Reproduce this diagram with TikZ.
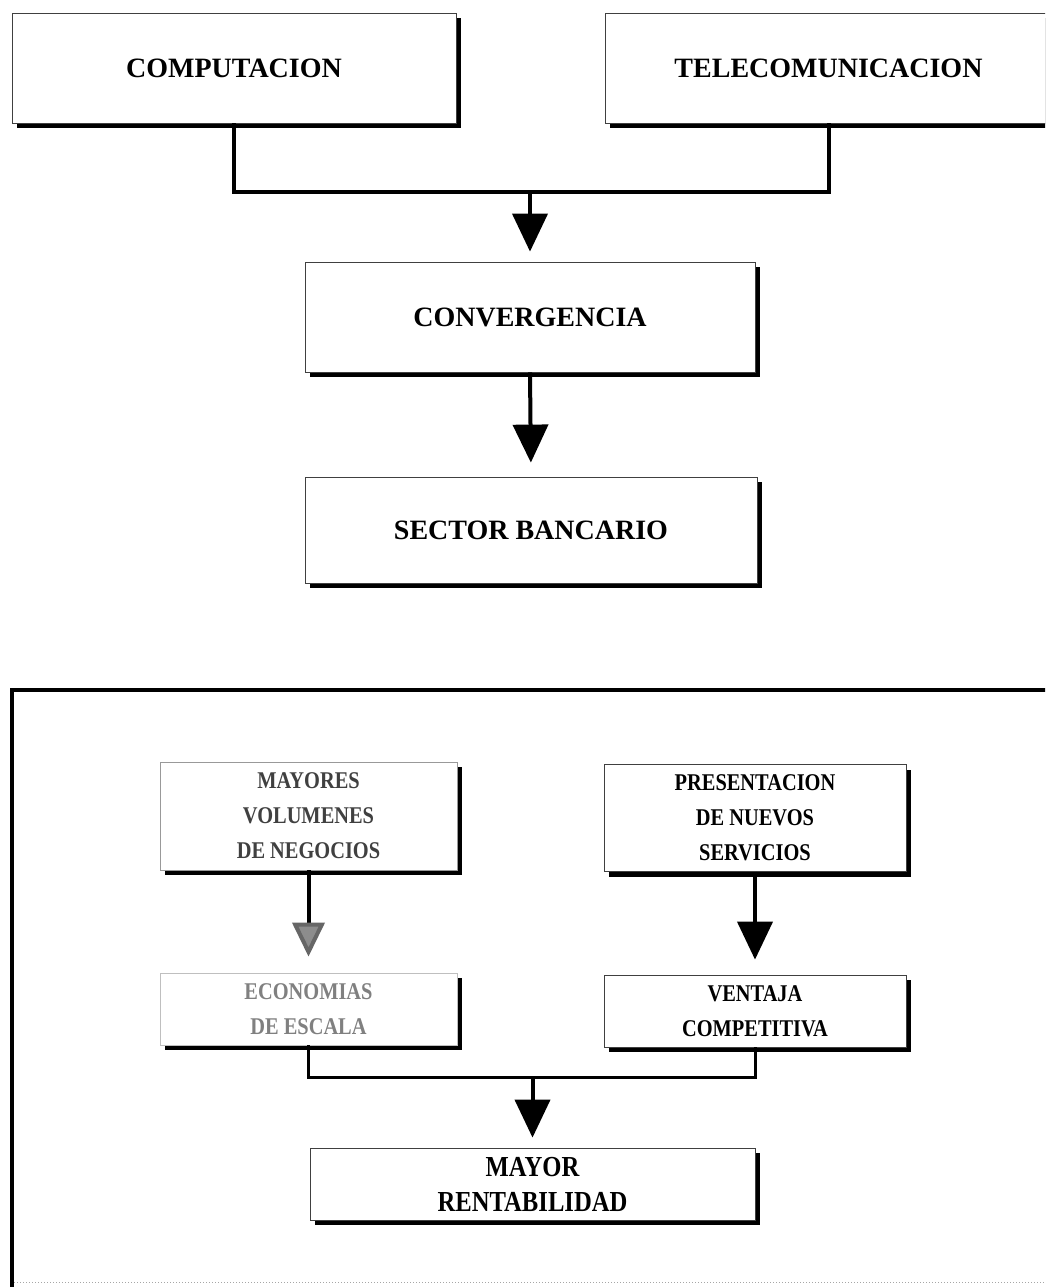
\documentclass[tikz,border=0pt]{standalone}
\usepackage{fontspec}
\setmainfont{Liberation Serif}
\newfontfamily\condserif[FakeStretch=0.85]{Liberation Serif}
\usetikzlibrary{arrows.meta,shadows}
\begin{document}
\begin{tikzpicture}[x=1pt,y=-1pt,
  box/.style={draw=black!75, line width=0.8pt, fill=white, rectangle, inner sep=0pt, align=center,
     drop shadow={shadow xshift=5pt, shadow yshift=-5pt, fill=black, opacity=1}},
  bigtxt/.style={font=\fontsize{28}{34}\selectfont\bfseries},
  smalltxt/.style={font=\condserif\fontsize{24}{35}\selectfont\bfseries},
  ranktxt/.style={font=\condserif\fontsize{29}{35}\selectfont\bfseries},
  conn/.style={line width=4pt, line join=miter, black},
  arr/.style={line width=4pt, -{Triangle[length=38pt,width=35pt]}},
  grayarr/.style={line width=4pt, -{Triangle[length=34pt,width=32pt,fill=black!45,color=black!60]}},
]
\useasboundingbox (0,0) rectangle (1045,1287);
\fill[white] (0,0) rectangle (1045,1287);
\begin{scope}
\clip (0,0) rectangle (1045,1287);
% top part
\node[box, bigtxt, minimum width=444pt, minimum height=110pt] (comp) at (234,68) {COMPUTACION};
\node[box, bigtxt, minimum width=447pt, minimum height=110pt] (tele) at (828.5,68) {TELECOMUNICACION};
\node[box, bigtxt, minimum width=450pt, minimum height=110pt] (conv) at (530,317) {CONVERGENCIA};
\node[box, bigtxt, minimum width=452pt, minimum height=106pt] (sect) at (531,530) {SECTOR BANCARIO};
\coordinate (j1) at (530,192);
\draw[conn] (comp.south) |- (tele.south |- j1) -- (tele.south);
\draw[arr, shorten >=10pt] (j1) -- (conv.north);
\draw[arr, shorten >=14pt] (conv.south) -- (sect.north);
% frame
\draw[line width=4pt, line join=miter] (12,1287) -- (12,690) -- (1060,690);
\draw[black!35, line width=1pt, dotted] (14,1282) -- (1045,1282);
% bottom part
\node[box, smalltxt, text=black!75, draw=black!40, minimum width=297pt, minimum height=108pt] (may) at (308.5,816) {MAYORES\\VOLUMENES\\DE NEGOCIOS};
\node[box, smalltxt, text=black!50, draw=black!25, minimum width=297pt, minimum height=72pt] (eco) at (308.5,1009) {ECONOMIAS\\DE ESCALA};
\node[box, smalltxt, minimum width=302pt, minimum height=107pt] (pres) at (755,818) {PRESENTACION\\DE NUEVOS\\SERVICIOS};
\node[box, smalltxt, minimum width=302pt, minimum height=72pt] (vent) at (755,1011) {VENTAJA\\COMPETITIVA};
\node[box, ranktxt, minimum width=445pt, minimum height=72pt] (mayor) at (532.5,1184) {MAYOR\\RENTABILIDAD};
\coordinate (j2) at (532.5,1077);
\draw[conn, line width=3pt] (eco.south) |- (vent.south |- j2) -- (vent.south);
\draw[grayarr, shorten >=16pt] (may.south) -- (eco.north);
\draw[arr, shorten >=15pt] (pres.south) -- (vent.north);
\draw[arr, shorten >=10pt] (j2) -- (mayor.north);
\end{scope}
\end{tikzpicture}
\end{document}
